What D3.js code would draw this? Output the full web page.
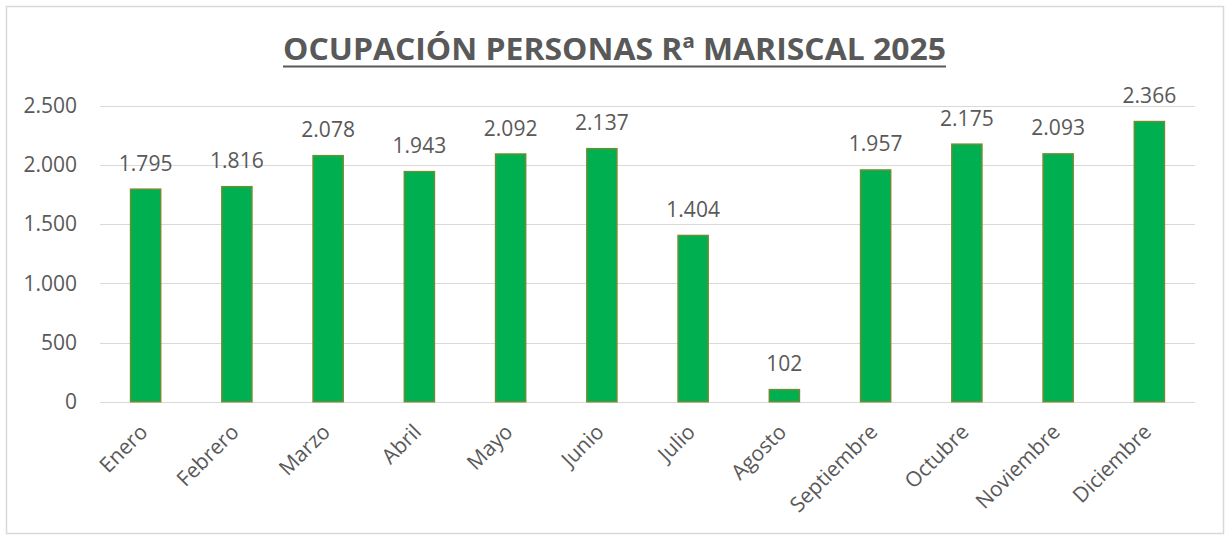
<!DOCTYPE html>
<html>
<head>
  <meta charset="utf-8">
  <title>Ocupación personas Rª Mariscal 2025</title>
  <style>
    body { margin: 0; background: #fff; }
    text { font-family: "Open Sans", sans-serif; fill: #595959; }
    .grid line { stroke: #d9d9d9; stroke-width: 1; }
    .bar { fill: #00b050; stroke: #6b8e35; stroke-width: 1.5; }
  </style>
  <script src="https://d3js.org/d3.v7.min.js"></script>
</head>
<body>
  <script>
    var meses = ["Enero", "Febrero", "Marzo", "Abril", "Mayo", "Junio",
                 "Julio", "Agosto", "Septiembre", "Octubre", "Noviembre", "Diciembre"];
    var personas = [1795, 1816, 2078, 1943, 2092, 2137, 1404, 102, 1957, 2175, 2093, 2366];
    var ticks = [0, 500, 1000, 1500, 2000, 2500];
    var titulo = "OCUPACIÓN PERSONAS Rª MARISCAL 2025";

    var width = 1227, height = 536;
    var mLeft = 100, mRight = 1195, mTop = 105.7, mBottom = 401.7;

    var es = d3.formatLocale({decimal: ",", thousands: ".", grouping: [3], currency: ["", "€"]});
    var fmt = es.format(",d");

    var svg = d3.select("body").append("svg")
      .attr("width", width)
      .attr("height", height);

    // marco
    svg.append("rect")
      .attr("x", 6.5).attr("y", 6.5)
      .attr("width", 1217).attr("height", 527)
      .attr("fill", "#fff")
      .attr("stroke", "#d9d9d9")
      .attr("stroke-width", 1.5);

    var x = d3.scaleBand().domain(meses).range([mLeft, mRight]).paddingInner(0.67).paddingOuter(0.335);
    var y = d3.scaleLinear().domain([0, 2500]).range([mBottom, mTop]);

    // grid
    svg.append("g").attr("class", "grid")
      .selectAll("line").data(ticks).enter().append("line")
        .attr("x1", mLeft).attr("x2", mRight)
        .attr("y1", d => Math.round(y(d)) + 0.5)
        .attr("y2", d => Math.round(y(d)) + 0.5);

    // eje y
    var yAxis = svg.append("g")
      .attr("transform", "translate(" + mLeft + ",0)")
      .call(d3.axisLeft(y).tickValues(ticks).tickFormat(fmt).tickSize(0).tickPadding(23));
    yAxis.select(".domain").remove();
    yAxis.selectAll("text").style("font-size", "21px").attr("fill", "#595959");

    // barras
    svg.selectAll(".bar").data(personas).enter().append("rect")
      .attr("class", "bar")
      .attr("x", (d, i) => x(meses[i]))
      .attr("width", x.bandwidth())
      .attr("y", d => y(d))
      .attr("height", d => mBottom - y(d));

    // etiquetas de valor
    svg.selectAll(".val").data(personas).enter().append("text")
      .attr("class", "val")
      .attr("x", (d, i) => x(meses[i]) + x.bandwidth() / 2)
      .attr("y", d => y(d) - 18.5)
      .attr("text-anchor", "middle")
      .style("font-size", "21px")
      .text(d => fmt(d));

    // etiquetas del eje x
    svg.selectAll(".mes").data(meses).enter().append("text")
      .attr("class", "mes")
      .attr("transform", d => "translate(" + (x(d) + x.bandwidth() / 2 - 2) + "," + 428 + ") rotate(-45)")
      .attr("text-anchor", "end")
      .attr("dy", "0.35em")
      .style("font-size", "21px")
      .text(d => d);

    // título
    svg.append("text")
      .attr("x", 614.5).attr("y", 60)
      .attr("text-anchor", "middle")
      .style("font-size", "31px")
      .style("font-weight", "bold")
      .attr("textLength", 663)
      .attr("lengthAdjust", "spacingAndGlyphs")
      .text(titulo);
    svg.append("line")
      .attr("x1", 614.5 - 331.5).attr("x2", 614.5 + 331.5)
      .attr("y1", 66.5).attr("y2", 66.5)
      .attr("stroke", "#595959").attr("stroke-width", 2);
  </script>
</body>
</html>
